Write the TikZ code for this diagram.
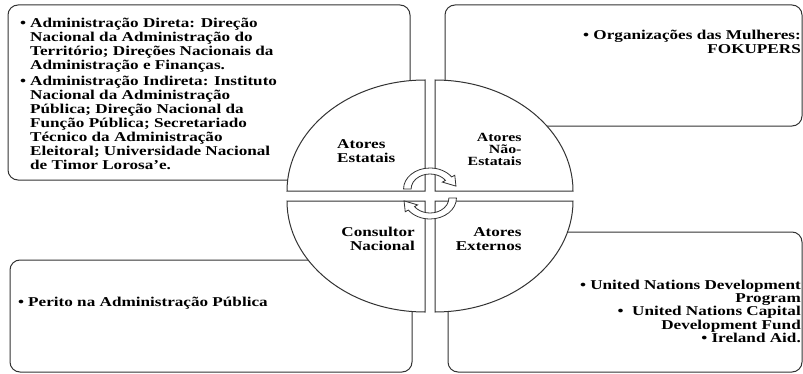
\documentclass[tikz,border=0pt]{standalone}
\usepackage{fontspec}
\newfontfamily\diafont{Liberation Serif}[FakeStretch=1.27]
\newcommand{\bul}{\makebox[10pt][l]{•}}
\newcommand{\ind}{\hspace*{10pt}}

\begin{document}
\begin{tikzpicture}[x=1pt,y=1pt,
  box/.style={draw=black!80, fill=white, line width=1pt, rounded corners=10pt},
  quad/.style={draw=black!80, fill=white, line width=1pt},
  cyc/.style={draw=black!80, fill=white, line width=0.8pt},
  txt/.style={font=\diafont\bfseries\fontsize{13.5}{14}\selectfont, inner sep=0pt},
  small/.style={font=\diafont\bfseries\fontsize{12.5}{12.3}\selectfont, inner sep=0pt}]
  \useasboundingbox (0,0) rectangle (803,373);

  % outer boxes
  \draw[box] (8,368) rectangle (410,193);
  \draw[box] (445,368) rectangle (802,247);
  \draw[box] (10,113) rectangle (412,1);
  \draw[box] (448,141) rectangle (802,1);

  % four quadrants
  \draw[quad] (425,182) -- (425,293) arc[start angle=90, end angle=180, x radius=138, y radius=111] -- cycle;
  \draw[quad] (435,182) -- (573,182) arc[start angle=0, end angle=90, x radius=138, y radius=111] -- cycle;
  \draw[quad] (425,172) -- (287,172) arc[start angle=180, end angle=270, x radius=138, y radius=111] -- cycle;
  \draw[quad] (435,172) -- (435,61) arc[start angle=270, end angle=360, x radius=138, y radius=111] -- cycle;

  % circular arrows
  \begin{scope}[shift={(430,184)}, xscale=1.26]
    \draw[cyc] (180:21) arc[start angle=180, end angle=35, radius=21] -- (35:24) -- (20.6,2.9)
      -- (35:12) -- (35:15) arc[start angle=35, end angle=180, radius=15] -- cycle;
  \end{scope}
  \begin{scope}[shift={(430,175)}, xscale=1.26, rotate=180]
    \draw[cyc] (180:21) arc[start angle=180, end angle=35, radius=21] -- (35:24) -- (20.6,2.9)
      -- (35:12) -- (35:15) arc[start angle=35, end angle=180, radius=15] -- cycle;
  \end{scope}

  % quadrant labels (anchored on their last line)
  \node[txt, anchor=base west, align=left] (Q1) at (337,210.3) {Atores\\Estatais};
  \node[small, anchor=base east, align=right] (Q2) at (521.7,207.3) {Atores\\Não-\\Estatais};
  \node[txt, anchor=base east, align=right] (Q3) at (415,123) {Consultor\\Nacional};
  \node[txt, anchor=base east, align=right] (Q4) at (521.7,122.3) {Atores\\Externos};

  % box texts
  \node[txt, anchor=base west, align=left] (B1) at (20,203.7) {%
    \bul Administração Direta: Direção\\
    \ind Nacional da Administração do\\
    \ind Território; Direções Nacionais da\\
    \ind Administração e Finanças.\\[1.5pt]
    \bul Administração Indireta: Instituto\\
    \ind Nacional da Administração\\
    \ind Pública; Direção Nacional da\\
    \ind Função Pública; Secretariado\\
    \ind Técnico da Administração\\
    \ind Eleitoral; Universidade Nacional\\
    \ind de Timor Lorosa’e.};
  \node[txt, anchor=base east, align=right] (B2) at (801,319.7) {• Organizações das Mulheres:\\FOKUPERS};
  \node[txt, anchor=base west, align=left] (B3) at (18,66.3) {\bul Perito na Administração Pública};
  \node[txt, anchor=base east, align=right, font=\diafont\bfseries\fontsize{13.5}{13.4}\selectfont] (B4) at (801,30.3) {%
    • United Nations Development\\
    Program\\
    •\ \ United Nations Capital\\
    Development Fund\\
    • Ireland Aid.};
\end{tikzpicture}
\end{document}
